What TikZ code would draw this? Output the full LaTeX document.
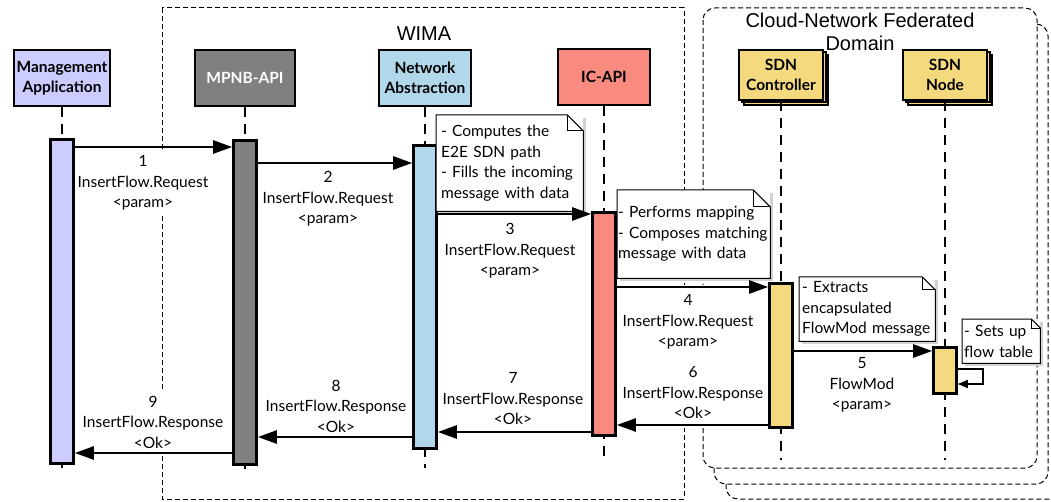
\documentclass[tikz,border=0pt]{standalone}
\usepackage{fontspec}
\setmainfont{Lato}
\newfontfamily\titlefont{Liberation Sans}
\usetikzlibrary{arrows.meta,shadows}
\definecolor{mgmtc}{HTML}{CCCCFF}
\definecolor{mpnbc}{HTML}{808080}
\definecolor{nac}{HTML}{B1D7EA}
\definecolor{icc}{HTML}{F88A7F}
\definecolor{sdnc}{HTML}{F4D97F}
\newcommand\foldnote[2]{%
  \draw[noteline] (#1.south west) -- (#1.north west) -- ([xshift=-#2]#1.north east)
     -- ([yshift=-#2]#1.north east) -- (#1.south east) -- cycle;
  \draw[noteline] ([xshift=-#2]#1.north east) -- ([xshift=-#2,yshift=-#2]#1.north east)
     -- ([yshift=-#2]#1.north east);}
\begin{document}
\begin{tikzpicture}[x=1pt,y=-1pt,
  every node/.style={inner sep=0pt},
  lbl/.style={font=\fontsize{15.5}{20.5}\selectfont, align=center, fill=white, inner xsep=2pt, inner ysep=6pt},
  actor/.style={draw, line width=2.8pt, minimum width=#1, minimum height=56pt,
     font=\fontsize{15.5}{19.5}\selectfont\bfseries, align=center},
  sdnactor/.style={actor=84pt, minimum height=50pt, fill=sdnc,
     general shadow={shadow xshift=5pt, shadow yshift=-5pt, fill=sdnc, draw=black, line width=2pt},
     general shadow={shadow xshift=2.5pt, shadow yshift=-2.5pt, fill=sdnc, draw=black, line width=2pt}},
  bar/.style={draw, line width=2.6pt, minimum width=23pt, anchor=north},
  lifeline/.style={line width=2.8pt, dash pattern=on 10pt off 7pt},
  msg/.style={line width=2.5pt, -{Triangle[length=19pt,width=13pt]}},
  selfmsg/.style={line width=1.5pt, -{Triangle[length=10pt,width=8pt]}},
  container/.style={line width=1pt, dash pattern=on 5pt off 3pt},
  notebox/.style={fill=white, font=\fontsize{15.5}{20.5}\selectfont, align=left, anchor=north west,
     drop shadow={shadow xshift=2.5pt, shadow yshift=-2.5pt, fill=black!18, opacity=1}},
  noteline/.style={line width=1pt},
  ttl/.style={font=\titlefont\fontsize{20}{23}\selectfont, align=center},
]
\useasboundingbox (0,0) rectangle (1051,502);

% containers
\draw[container, fill=white, rounded corners=12pt] (726,40) rectangle (1070,499);
\draw[container, fill=white, rounded corners=12pt] (714,24) rectangle (1048,484);
\draw[container, fill=white, rounded corners=12pt] (703,8) rectangle (1037,468);
\draw[container] (162,8) rectangle (684,499);
\node[ttl] (wimat) at (424,34) {WIMA};
\node[ttl] (cloudt) at (860,32) {Cloud-Network Federated\\Domain};

% actors
\node[actor=96pt, fill=mgmtc] (mgmt) at (62,78) {Management\\Application};
\node[actor=100pt, fill=mpnbc, text=white] (mpnb) at (245,78) {MPNB-API};
\node[actor=92pt, fill=nac] (na) at (425,78) {Network\\Abstraction};
\node[actor=92pt, fill=icc] (ic) at (604,77) {IC-API};
\node[sdnactor] (sdnc) at (781,75) {SDN\\Controller};
\node[sdnactor] (sdnn) at (945,75) {SDN\\Node};

% lifelines
\coordinate (mgmtE) at (62,468);
\coordinate (mpnbE) at (245,469);
\coordinate (naE) at (425,468);
\coordinate (icE) at (604,460);
\coordinate (sdncE) at (781,460);
\coordinate (sdnnE) at (945,460);
\draw[lifeline] (mgmt.south) -- (mgmtE);
\draw[lifeline] (mpnb.south) -- (mpnbE);
\draw[lifeline] (na.south) -- (naE);
\draw[lifeline] (ic.south) -- (icE);
\draw[lifeline] (sdnc.south) -- (sdncE);
\draw[lifeline] (sdnn.south) -- (sdnnE);

% activation bars
\node[bar, fill=mgmtc, minimum height=324pt] (mgmtb) at (62,138) {};
\node[bar, fill=mpnbc, minimum height=324pt] (mpnbb) at (245,139) {};
\node[bar, fill=nac, minimum height=303pt] (nab) at (425,144) {};
\node[bar, fill=icc, minimum height=223pt] (icb) at (604,211) {};
\node[bar, fill=sdnc, minimum height=144pt] (sdncb) at (781,282) {};
\node[bar, fill=sdnc, minimum height=46pt] (sdnnb) at (945,346) {};

% message labels
\node[lbl] (l1) at (143,183) {1\\InsertFlow.Request\\<param>};
\node[lbl] (l2) at (328,199) {2\\InsertFlow.Request\\<param>};
\node[lbl] (l3) at (510,251) {3\\InsertFlow.Request\\<param>};
\node[lbl, inner ysep=10pt] (l4) at (688,322) {4\\InsertFlow.Request\\<param>};
\node[lbl] (l5) at (862,385) {5\\FlowMod\\<param>};
\node[lbl, inner ysep=9pt] (l6) at (693,393) {6\\InsertFlow.Response\\<Ok>};
\node[lbl] (l7) at (513,399) {7\\InsertFlow.Response\\<Ok>};
\node[lbl] (l8) at (336,406) {8\\InsertFlow.Response\\<Ok>};
\node[lbl] (l9) at (153,422) {9\\InsertFlow.Response\\<Ok>};

% notes
\node[notebox, text width=137pt, inner xsep=5pt, minimum height=96pt] (n1) at (436,115)
  {- Computes the\\E2E SDN path\\- Fills the incoming\\message with data};
\foldnote{n1}{16pt}
\node[notebox, text width=151pt, inner xsep=1pt, minimum height=88pt] (n2) at (617,190)
  {- Performs mapping\\- Composes matching\\message with data};
\foldnote{n2}{17pt}
\node[notebox, text width=130pt, inner xsep=3pt, minimum height=64pt] (n3) at (799,277)
  {- Extracts\\encapsulated\\FlowMod message};
\foldnote{n3}{13pt}
\node[notebox, text width=74pt, inner xsep=2pt, minimum height=44pt] (n4) at (962,319)
  {- Sets up\\flow table};
\foldnote{n4}{9pt}

% messages
\coordinate (y1) at (0,147);
\coordinate (y2) at (0,163);
\coordinate (y3) at (0,214);
\coordinate (y4) at (0,287);
\coordinate (y5) at (0,351);
\coordinate (y6) at (0,425);
\coordinate (y7) at (0,432);
\coordinate (y8) at (0,437);
\coordinate (y9) at (0,453);
\draw[msg] (mgmtb.east |- y1) -- (mpnbb.west |- y1);
\draw[msg] (mpnbb.east |- y2) -- (nab.west |- y2);
\draw[msg] (nab.east |- y3) -- (icb.west |- y3);
\draw[msg] (icb.east |- y4) -- (sdncb.west |- y4);
\draw[msg] (sdncb.east |- y5) -- (sdnnb.west |- y5);
\draw[msg] (sdncb.west |- y6) -- (icb.east |- y6);
\draw[msg] (icb.west |- y7) -- (nab.east |- y7);
\draw[msg] (nab.west |- y8) -- (mpnbb.east |- y8);
\draw[msg] (mpnbb.west |- y9) -- (mgmtb.east |- y9);
\coordinate (s1) at (983,369);
\coordinate (s2) at (983,384);
\draw[selfmsg] (sdnnb.east |- s1) -- (s1) -- (s2) -- (sdnnb.east |- s2);
\end{tikzpicture}
\end{document}
